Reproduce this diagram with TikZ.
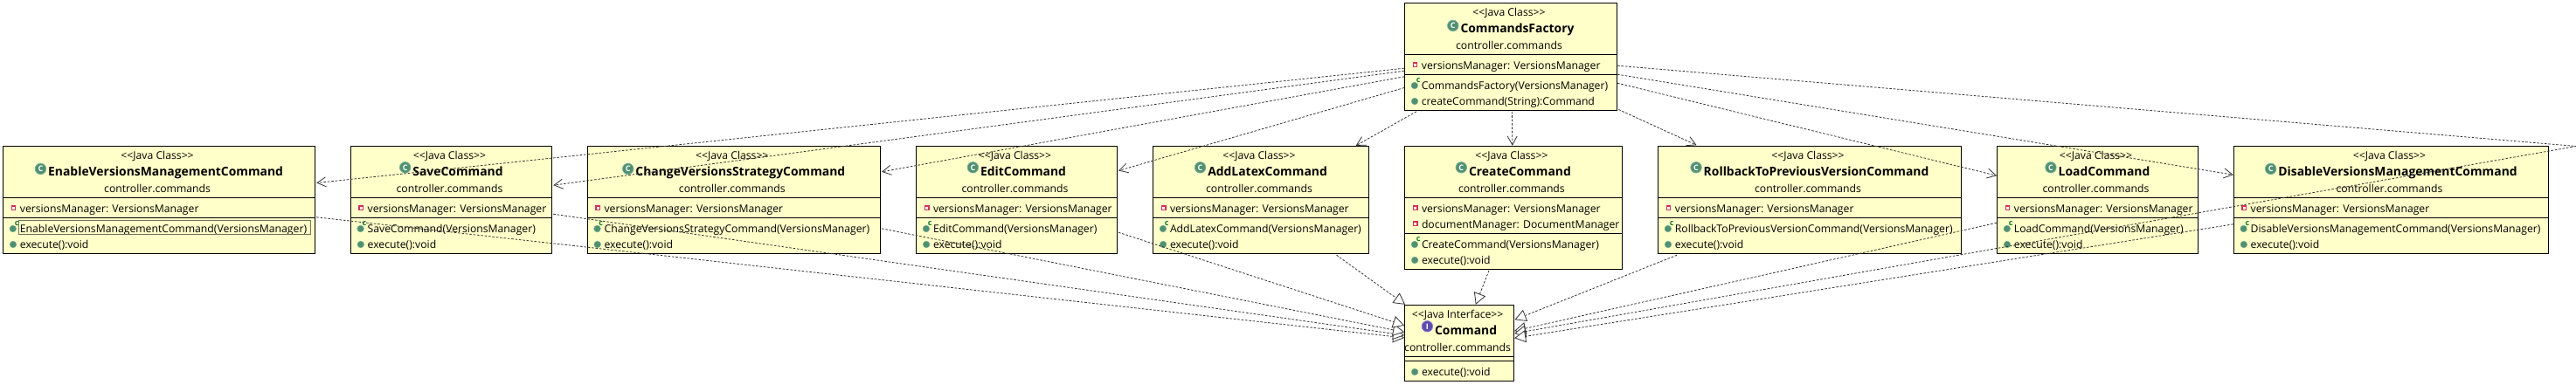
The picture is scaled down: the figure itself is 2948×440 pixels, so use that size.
\documentclass[tikz,border=0pt]{standalone}
\usepackage{fontspec}
\setmainfont{Open Sans}
\usetikzlibrary{arrows.meta,calc}
\definecolor{boxfill}{HTML}{FFFFC9}
\definecolor{lineink}{HTML}{333333}
\definecolor{classgreen}{HTML}{4E9070}
\definecolor{ctorc}{HTML}{0E7A2A}
\definecolor{ifacepurple}{HTML}{5F4BB0}
\definecolor{privred}{HTML}{D2305A}
\tikzset{
  umlbox/.style={draw=black,line width=1pt,fill=boxfill,inner sep=0pt,rectangle},
  sepline/.style={draw=black,line width=1pt},
  smalltext/.style={inner sep=0pt,text=black,font=\fontsize{12.2}{13}\selectfont},
  rowtext/.style={smalltext,anchor=base west},
  centertext/.style={smalltext,anchor=base},
  nametext/.style={inner sep=0pt,anchor=base,text=black,font=\fontsize{13.9}{15}\selectfont\bfseries},
  bigicon/.style={circle,inner sep=0pt,minimum size=12.5pt,text=white,font=\fontsize{9}{9}\selectfont\bfseries},
  memberdot/.style={circle,inner sep=0pt,minimum size=7.6pt,fill=classgreen,draw=classgreen!75!white,line width=.5pt},
  ctormark/.style={inner sep=0pt,text=ctorc,font=\fontsize{9}{9}\selectfont\bfseries},
  privmark/.style={rectangle,inner sep=0pt,minimum size=4.6pt,fill=white,draw=privred,line width=1.2pt},
  linkbase/.style={draw=lineink,line width=.8pt,dash pattern=on 2.6pt off 1.8pt},
  dep/.style={linkbase,-{Straight Barb[length=10pt,width=11pt,line width=.8pt]}},
  impl/.style={linkbase,-{Triangle[open,length=13pt,width=14pt,line width=.8pt,fill=white]}},
  focusbox/.style={draw=black!55!boxfill,line width=.8pt,inner sep=0pt}
}
% id, x1, x2, top, bottom, name, stereotype, icon colour, icon letter
\newcommand{\umlclass}[9]{%
  \node[umlbox,minimum width={(#3-#2)*1pt},minimum height={(#5-#4)*1pt}] (#1) at ({(#2+#3)/2},{(#4+#5)/2}) {};
  \node[centertext] (#1-stereo) at ({(#2+#3)/2-2},{#4+15}) {<{}<#7>{}>};
  \node[nametext] (#1-name) at ({(#2+#3)/2+7.5},{#4+34}) {#6};
  \node[bigicon,fill=#8,draw=#8!70!white,line width=.8pt] (#1-icon) at ($(#1-name.west)+(-8.5,-4.3)$) {#9};
  \node[centertext] (#1-pkg) at ({(#2+#3)/2-2},{#4+52.7}) {controller.commands};
}
\newcommand{\umlsep}[4]{\draw[sepline] (#1,#3) -- (#2,#3);}
% id, x1, baseline, text
\newcommand{\umlfield}[4]{%
  \node[privmark] (#1-m) at ({#2+12},{#3-4.7}) {};
  \node[rowtext] (#1) at ({#2+19.2},#3) {#4};
}
\newcommand{\umlctor}[4]{%
  \node[memberdot] (#1-m) at ({#2+11.3},{#3-4}) {};
  \node[ctormark] (#1-c) at ({#2+15.6},{#3-9.5}) {c};
  \node[rowtext] (#1) at ({#2+19.2},#3) {#4};
}
\newcommand{\umlmethod}[4]{%
  \node[memberdot] (#1-m) at ({#2+11.5},{#3-4}) {};
  \node[rowtext] (#1) at ({#2+19.2},#3) {#4};
}
% id x1 x2 name (standard row)
\newcommand{\rowclass}[4]{%
  \umlclass{#1}{#2}{#3}{167.3}{290.3}{#4}{Java Class}{classgreen}{C}
  \umlsep{#2}{#3}{226.3}{}
  \umlsep{#2}{#3}{249.3}{}
  \umlfield{#1-f}{#2}{243}{versionsManager: VersionsManager}
  \umlctor{#1-k}{#2}{266}{#4(VersionsManager)}
  \umlmethod{#1-x}{#2}{284}{execute():void}
}
\begin{document}
\begin{tikzpicture}[x=1pt,y=-1pt]
\useasboundingbox (0,0) rectangle (2948,440);
\fill[white] (0,0) rectangle (2948,440);

\rowclass{enable}{3.5}{360.7}{EnableVersionsManagementCommand}
\rowclass{save}{401.3}{631.7}{SaveCommand}
\rowclass{change}{672.2}{1007.5}{ChangeVersionsStrategyCommand}
\rowclass{edit}{1048.6}{1278.5}{EditCommand}
\rowclass{addlatex}{1319.6}{1566.5}{AddLatexCommand}
\rowclass{rollback}{1897.5}{2244.6}{RollbackToPreviousVersionCommand}
\rowclass{load}{2285.5}{2515.5}{LoadCommand}
\rowclass{disable}{2556.3}{2916.7}{DisableVersionsManagementCommand}

% highlighted label in the first class
\node[focusbox,minimum width=334pt,minimum height=16pt] (enable-focus) at (188.4,260.3) {};

% CreateCommand
\umlclass{create}{1607.6}{1856.2}{167.3}{308.3}{CreateCommand}{Java Class}{classgreen}{C}
\umlsep{1607.6}{1856.2}{226.3}{}
\umlsep{1607.6}{1856.2}{267.3}{}
\umlfield{create-f1}{1607.6}{243}{versionsManager: VersionsManager}
\umlfield{create-f2}{1607.6}{261}{documentManager: DocumentManager}
\umlctor{create-k}{1607.6}{284}{CreateCommand(VersionsManager)}
\umlmethod{create-x}{1607.6}{302}{execute():void}

% CommandsFactory
\umlclass{factory}{1607.5}{1850.5}{3.3}{126.3}{CommandsFactory}{Java Class}{classgreen}{C}
\umlsep{1607.5}{1850.5}{62.3}{}
\umlsep{1607.5}{1850.5}{85.3}{}
\umlfield{factory-f}{1607.5}{79}{versionsManager: VersionsManager}
\umlctor{factory-k}{1607.5}{102}{CommandsFactory(VersionsManager)}
\umlmethod{factory-x}{1607.5}{120}{createCommand(String):Command}

% Command
\umlclass{command}{1607.6}{1732.6}{349.3}{436.3}{Command}{Java Interface}{ifacepurple}{I}
\umlsep{1607.6}{1732.6}{408.3}{}
\umlsep{1607.6}{1732.6}{413.3}{}
\umlmethod{command-x}{1607.6}{430}{execute():void}

\coordinate (offbox) at (2948,167.5);

% dependencies from the factory
\draw[dep] ($(factory.north west)+(0,75.4)$) -- ($(enable.north east)+(1,42.7)$);
\draw[dep] ($(factory.north west)+(0,78.4)$) -- ($(save.north east)+(1,45.4)$);
\draw[dep] ($(factory.north west)+(0,85)$) -- ($(change.north east)+(1,30)$);
\draw[dep] ($(factory.north west)+(0,97.7)$) -- ($(edit.north east)+(1,28.7)$);
\draw[dep] ($(factory.south west)+(13.9,1)$) -- ($(addlatex.north west)+(232.6,0)$);
\draw[dep] ($(factory.south west)+(123.3,1)$) -- ($(create.north west)+(123.7,0)$);
\draw[dep] ($(factory.south east)+(1.3,-1.3)$) -- ($(rollback.north west)+(44.5,-.6)$);
\draw[dep] ($(factory.north east)+(0,92.4)$) -- ($(load.north west)+(0,34.4)$);
\draw[dep] ($(factory.north east)+(0,82.4)$) -- ($(disable.north west)+(0,33.4)$);
\draw[linkbase] ($(factory.north east)+(0,72.4)$) -- (offbox);

% realisations of Command
\draw[impl] ($(enable.north east)+(1,82)$) -- ($(command.north west)+(0,38.1)$);
\draw[impl] ($(save.north east)+(1,78.4)$) -- ($(command.north west)+(0,35.2)$);
\draw[impl] ($(change.north east)+(1,95)$) -- ($(command.north west)+(0,31.6)$);
\draw[impl] ($(edit.north east)+(1,99.4)$) -- ($(command.north west)+(0,24)$);
\draw[impl] ($(addlatex.south west)+(210.4,1.4)$) -- ($(command.north west)+(1,0)$);
\draw[impl] ($(create.south west)+(96.9,1)$) -- ($(command.north west)+(81.7,0)$);
\draw[impl] ($(rollback.south west)+(22.1,1.4)$) -- ($(command.north east)+(.4,17.4)$);
\draw[impl] ($(load.north west)+(0,88.4)$) -- ($(command.north east)+(0,30.2)$);
\draw[impl] (offbox) -- ($(command.north east)+(0,33.1)$);
\draw[impl] ($(disable.north west)+(0,90)$) -- ($(command.north east)+(0,38.5)$);
\end{tikzpicture}
\end{document}
